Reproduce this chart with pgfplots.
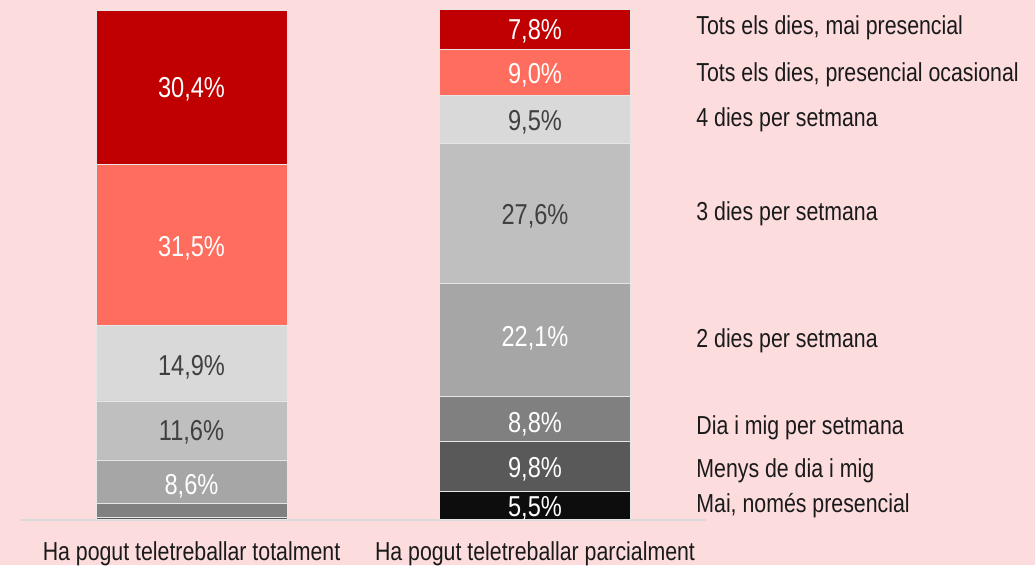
\documentclass[border=0pt]{standalone}
\usepackage{pgfplots}
\pgfplotsset{compat=1.18}
\usepackage{pgfplotstable}
\usepackage{fontspec}
\setmainfont{Liberation Sans}[FakeStretch=0.82]

\definecolor{fons}{HTML}{FCDCDD}
\definecolor{vermell}{HTML}{C00000}
\definecolor{salmo}{HTML}{FF6D5E}
\definecolor{gq}{HTML}{D9D9D9}
\definecolor{gt}{HTML}{BFBFBF}
\definecolor{gd}{HTML}{A6A6A6}
\definecolor{gm}{HTML}{808080}
\definecolor{gn}{HTML}{595959}
\definecolor{negre}{HTML}{0D0D0D}
\definecolor{textfosc}{HTML}{404040}
\definecolor{textnegre}{HTML}{1A1A1A}
\definecolor{separa}{HTML}{E6E6E6}

% pos 0: totalment, pos 1: parcialment
\pgfplotstableread{
pos mai menys mig dos tres quatre ocas tots
0 0.0 0.3  2.7  8.6 11.6 14.9 31.5 30.4
1 5.5 9.8  8.8 22.1 27.6  9.5  9.0  7.8
}\dades

% etiquetes dels segments (y = linia base del text)
\pgfplotstableread{
pos y lab
0 4.91 8,6
0 51.53 31,5
0 82.77 30,4
1 0.45 5,5
1 8.11 9,8
1 17.09 8,8
1 33.87 22,1
1 85.6 9,0
1 94.11 7,8
}\etblanc
\pgfplotstableread{
pos y lab
0 15.38 11,6
0 28.29 14,9
1 57.90 27,6
1 76.42 9,5
}\etfosc

\newcommand\lletra{\fontsize{13pt}{15pt}\selectfont}
\newcommand\xifra{\fontsize{14.4pt}{16pt}\selectfont}

\pgfplotsset{eixos/.style={
    scale only axis,
    width=517.5pt, height=282.5pt,
    xmin=-0.5575, xmax=2.4556,
    ymin=-9.037, ymax=101.965,
    hide axis,
    clip=false,
}}
\tikzset{llegenda/.style={anchor=base west, inner sep=0pt, text=textnegre, font=\lletra},
         categoria/.style={anchor=base, inner sep=0pt, text=textnegre, font=\lletra}}

\begin{document}
\begin{tikzpicture}
\fill[fons] (0,0) rectangle (517.5pt,282.5pt);
\begin{axis}[eixos, ybar stacked, bar width=0.556]
\addplot[fill=negre, draw=separa] table[x=pos, y=mai]{\dades};
\addplot[fill=gn, draw=separa] table[x=pos, y=menys]{\dades};
\addplot[fill=gm, draw=separa] table[x=pos, y=mig]{\dades};
\addplot[fill=gd, draw=separa] table[x=pos, y=dos]{\dades};
\addplot[fill=gt, draw=separa] table[x=pos, y=tres]{\dades};
\addplot[fill=gq, draw=separa] table[x=pos, y=quatre]{\dades};
\addplot[fill=salmo, draw=separa] table[x=pos, y=ocas]{\dades};
\addplot[fill=vermell, draw=separa] table[x=pos, y=tots]{\dades};
\draw[color=gq, line width=1pt] (axis cs:-0.4964,-0.29) -- (axis cs:1.4978,-0.29);
\node[llegenda] at (axis cs:1.4687,95.09) {Tots els dies, mai presencial};
\node[llegenda] at (axis cs:1.4687,85.91) {Tots els dies, presencial ocasional};
\node[llegenda] at (axis cs:1.4687,77.07) {4 dies per setmana};
\node[llegenda] at (axis cs:1.4687,58.74) {3 dies per setmana};
\node[llegenda] at (axis cs:1.4687,33.60) {2 dies per setmana};
\node[llegenda] at (axis cs:1.4687,16.70) {Dia i mig per setmana};
\node[llegenda] at (axis cs:1.4687,8.25) {Menys de dia i mig};
\node[llegenda] at (axis cs:1.4687,1.375) {Mai, només presencial};
\node[categoria] at (axis cs:0,-8.25) {Ha pogut teletreballar totalment};
\node[categoria] at (axis cs:1,-8.25) {Ha pogut teletreballar parcialment};
\end{axis}

\begin{axis}[eixos,
    nodes near coords={\pgfplotspointmeta\%},
    point meta=explicit symbolic,
    every node near coord/.append style={anchor=base, inner sep=0pt, font=\xifra},
]
\addplot[draw=none, mark=none, every node near coord/.append style={text=white}]
    table[x=pos, y=y, meta=lab]{\etblanc};
\addplot[draw=none, mark=none, every node near coord/.append style={text=textfosc}]
    table[x=pos, y=y, meta=lab]{\etfosc};
\end{axis}
\end{tikzpicture}
\end{document}
